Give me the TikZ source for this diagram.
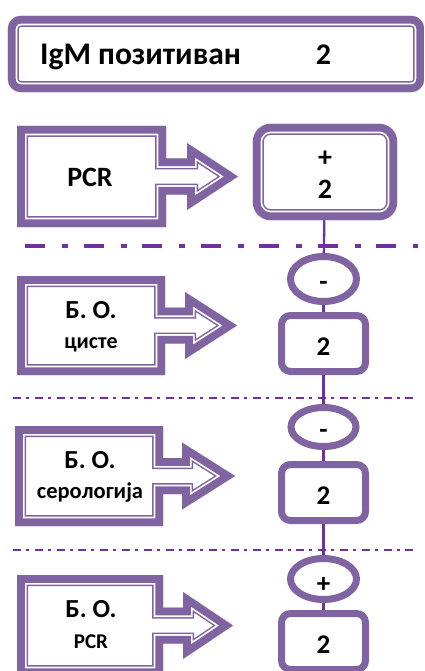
\documentclass[tikz,border=0pt]{standalone}
\usepackage{fontspec}
\setmainfont{Carlito}
\usetikzlibrary{shapes.geometric,backgrounds}

\definecolor{frame}{RGB}{128,100,162}
\definecolor{rulecol}{RGB}{112,48,160}

\tikzset{
  oval/.style={ellipse, draw=frame, line width=7pt, fill=white, inner sep=0pt},
  countbox/.style={rectangle, rounded corners=9pt, draw=frame, line width=7pt,
    fill=white, inner sep=0pt, minimum width=84pt, minimum height=56pt},
  holder/.style={rectangle, inner sep=0pt},
  lbl/.style={inner sep=0pt, anchor=base, font=\bfseries\fontsize{#1}{#1}\selectfont},
  lbl/.default=26,
  link/.style={draw=rulecol, line width=2.3pt},
  heavyrule/.style={draw=rulecol, line width=4pt,
    dash pattern=on 20pt off 17pt on 6pt off 15.5pt},
  lightrule/.style={draw=rulecol, line width=2pt,
    dash pattern=on 8pt off 5pt on 3pt off 5.8pt},
}

% thick outer band, thin white gap and thin inner line, all inside the outline
\newcommand\tframe[2][]{%
  \begin{scope}
    \clip[#1] #2;
    \draw[#1, frame, line width=22pt] #2;
    \draw[#1, white, line width=19pt] #2;
    \draw[#1, frame, line width=15.5pt] #2;
  \end{scope}}

% arrow callout: left, top, right of box, bottom, head base x, tip x
\newcommand\arrowcallout[6]{%
  \tframe{(#1,#2) -- (#3,#2) -- (#3,{(#2+#4)/2-18}) -- (#5,{(#2+#4)/2-18})
    -- (#5,{(#2+#4)/2-33.5}) -- (#6,{(#2+#4)/2}) -- (#5,{(#2+#4)/2+33.5})
    -- (#5,{(#2+#4)/2+18}) -- (#3,{(#2+#4)/2+18}) -- (#3,#4) -- (#1,#4) -- cycle}}

\begin{document}
\begin{tikzpicture}[x=1pt, y=-1pt]
  \useasboundingbox (0,0) rectangle (425,671);
  \clip (0,0) rectangle (425,671);

  % header
  \node[holder, minimum width=416pt, minimum height=76pt] (head) at (216,54) {};
  \tframe[rounded corners=13pt]{(head.north west) rectangle (head.south east)}
  \node[lbl=31.5, anchor=base west] (headtxt) at (40,65) {IgM позитиван};
  \node[lbl=30] (headnum) at (323.5,65) {2};

  % first step
  \arrowcallout{17}{126}{166}{227}{187}{238}
  \node[lbl=28] (pcr) at (90,186) {PCR};
  \node[holder, minimum width=144pt, minimum height=96pt] (b0) at (325,172) {};
  \tframe[rounded corners=18pt]{(b0.north west) rectangle (b0.south east)}
  \node[lbl=28] (b0sign) at (325,167) {+};
  \node[lbl=28] (b0num) at (325,198) {2};

  % cysts
  \arrowcallout{17}{276}{165}{375}{185}{237}
  \node[lbl=26] (bo1) at (91,318) {Б. О.};
  \node[lbl=22] (cyst) at (91,348) {цисте};
  \node[oval, minimum width=66pt, minimum height=45pt] (e1) at (323.5,279) {};
  \node[lbl=27] (e1sign) at (323.5,290) {-};
  \node[countbox] (b1) at (323.5,343.5) {};
  \node[lbl=27] (b1num) at (323.5,355) {2};

  % serology
  \arrowcallout{15}{426}{163}{526}{182}{235}
  \node[lbl=26] (bo2) at (90,468) {Б. О.};
  \node[lbl=22.5] (sero) at (90,498) {серологија};
  \node[oval, minimum width=65pt, minimum height=39pt] (e2) at (323.5,427) {};
  \node[lbl=27] (e2sign) at (323.5,438) {-};
  \node[countbox] (b2) at (323.5,492.5) {};
  \node[lbl=27] (b2num) at (323.5,504) {2};

  % PCR of cysts
  \arrowcallout{17}{575}{163}{676}{183}{233}
  \node[lbl=26] (bo3) at (91,617) {Б. О.};
  \node[lbl=21] (pcr2) at (91,648) {PCR};
  \node[oval, minimum width=66pt, minimum height=41pt] (e3) at (323.5,579) {};
  \node[lbl=27] (e3sign) at (323.5,592) {+};
  \node[countbox] (b3) at (323.5,641.5) {};
  \node[lbl=27] (b3num) at (323.5,653) {2};

  % dividers and the vertical chain
  \coordinate (r1a) at (25,246);  \coordinate (r1b) at (418,246);
  \coordinate (r2a) at (13,398);  \coordinate (r2b) at (418,398);
  \coordinate (r3a) at (13,549.5); \coordinate (r3b) at (418,549.5);
  \begin{scope}[on background layer]
    \draw[heavyrule] (r1a) -- (r1b);
    \draw[lightrule] (r2a) -- (r2b);
    \draw[lightrule] (r3a) -- (r3b);
    \draw[link] (b0) -- (e1);
    \draw[link] (e1) -- (b1);
    \draw[link] (b1) -- (e2);
    \draw[link] (e2) -- (b2);
    \draw[link] (b2) -- (e3);
    \draw[link] (e3) -- (b3);
  \end{scope}
\end{tikzpicture}
\end{document}
